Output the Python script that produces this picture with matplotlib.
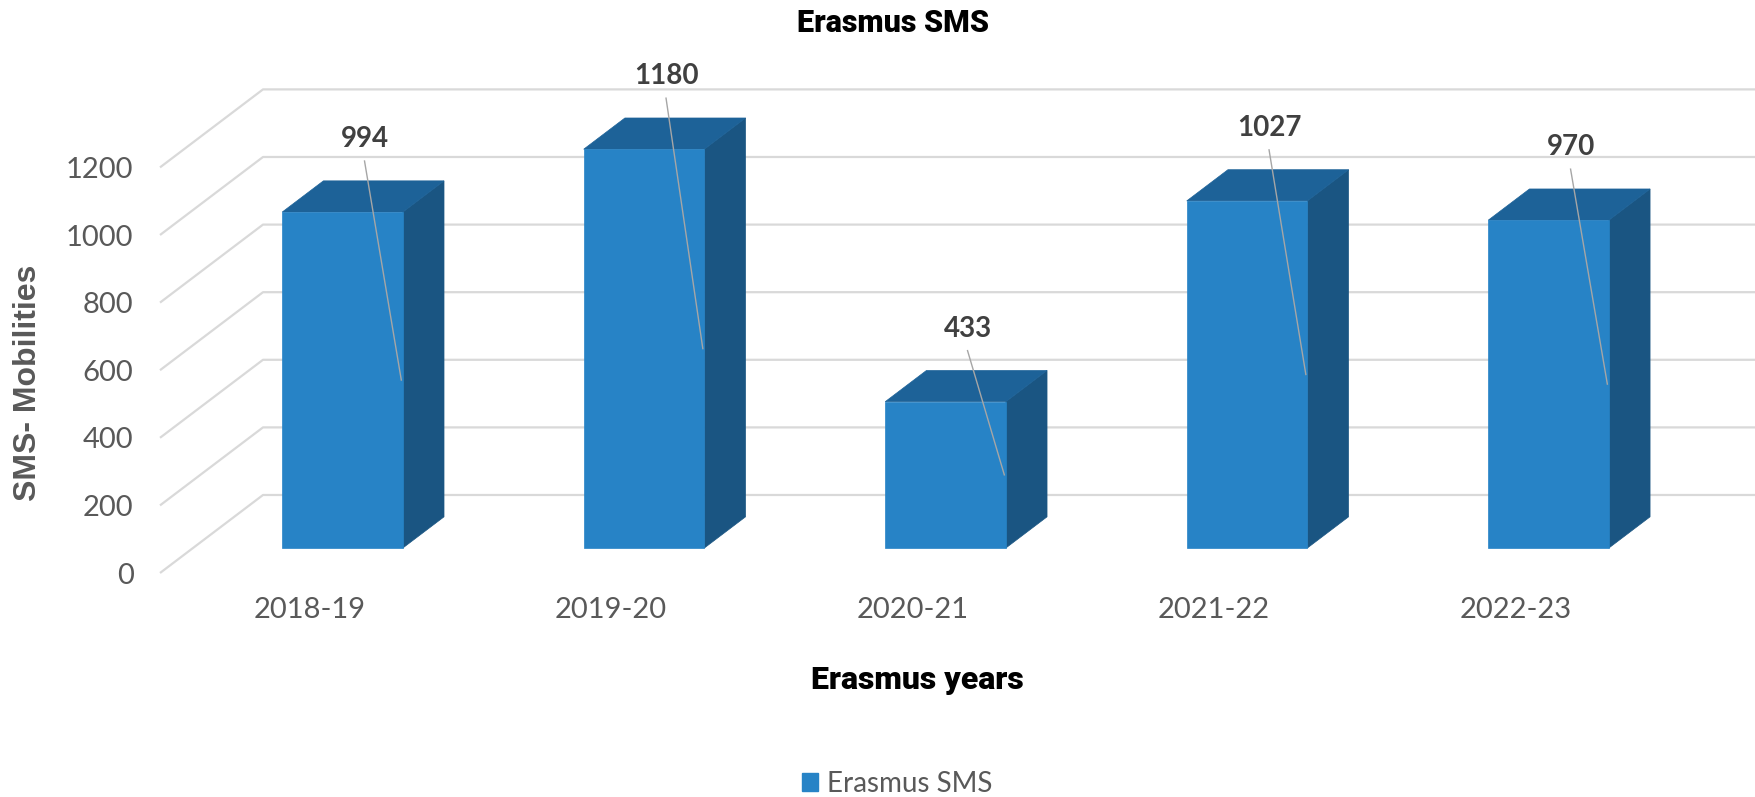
import matplotlib
matplotlib.use("Agg")
import matplotlib.pyplot as plt
from matplotlib.patches import Polygon, Patch

years = ["2018-19", "2019-20", "2020-21", "2021-22", "2022-23"]
mobilities = [994, 1180, 433, 1027, 970]
y_ticks = [0, 200, 400, 600, 800, 1000, 1200]

front_col = "#2783C6"
top_col = "#1D6298"
side_col = "#1A5582"
grid_col = "#D9D9D9"
text_grey = "#595959"

# oblique "3d": a point (x, v, depth) is shifted by depth*(DX, DY) in data units
DX = 0.3416
DY = 230.8
d_front, d_back = 0.32, 0.72
half_w = 0.2

def proj(x, v, d):
    return (x + d * DX, v + d * DY)

fig = plt.figure(figsize=(17.55, 7.97), dpi=100)
ax = fig.add_axes([160 / 1755, 224 / 797, 1595 / 1755, 405.6 / 797])
ax.set_xlim(-0.496, 4.794)
ax.set_ylim(0, 1200)
for s in ax.spines.values():
    s.set_visible(False)

# walls: diagonals on the side wall + lines on the back wall
x0 = ax.get_xlim()[0]
x1 = ax.get_xlim()[1]
for v in y_ticks:
    a = proj(x0, v, 0)
    b = proj(x0, v, 1)
    ax.plot([a[0], b[0], x1 + 0.2], [a[1], b[1], b[1]], color=grid_col,
            lw=1.6, clip_on=False, zorder=1, solid_capstyle="butt")

# bars
for i, v in enumerate(mobilities):
    xl, xr = i - half_w, i + half_w
    front = [proj(xl, 0, d_front), proj(xr, 0, d_front),
             proj(xr, v, d_front), proj(xl, v, d_front)]
    top = [proj(xl, v, d_front), proj(xr, v, d_front),
           proj(xr, v, d_back), proj(xl, v, d_back)]
    side = [proj(xr, 0, d_front), proj(xr, 0, d_back),
            proj(xr, v, d_back), proj(xr, v, d_front)]
    for pts, c in [(side, side_col), (top, top_col), (front, front_col)]:
        ax.add_patch(Polygon(pts, closed=True, facecolor=c, edgecolor=c,
                             lw=0.5, clip_on=False, zorder=3))

    # data label with leader line
    cx, cy = proj(i, v, d_front)
    lx = cx + 0.073
    ex, ey = proj(xr, v / 2, d_front)
    ax.plot([lx, ex - 0.005], [cy + 151, ey], color="#A6A6A6", lw=1,
            clip_on=False, zorder=4)
    ax.text(lx, cy + 216, str(v), ha="center", va="center", fontsize=20,
            fontweight="bold", color="#404040", family="Lato", zorder=5)

ax.set_yticks(y_ticks)
ax.set_yticklabels([str(t) for t in y_ticks], family="Lato", fontsize=21,
                   color=text_grey)
ax.set_xticks(range(len(years)))
ax.set_xticklabels(years, family="Lato", fontsize=21, color=text_grey)
ax.tick_params(axis="y", length=0, pad=19)
ax.tick_params(axis="x", length=0, pad=17)

ax.set_ylabel("SMS- Mobilities", family="Liberation Sans", fontweight="bold",
              fontsize=23, color=text_grey)
ax.yaxis.set_label_coords(-0.0734, 0.468)
ax.set_xlabel("Erasmus years", family="Roboto", fontweight="heavy",
              fontsize=23, color="black")
ax.xaxis.set_label_coords(0.4746, -0.227)

fig.text(893 / 1755, 1 - 23 / 797, "Erasmus SMS", family="Roboto",
         fontweight="heavy", fontsize=22, ha="center", va="center")

fig.legend(handles=[Patch(color=front_col, label="Erasmus SMS")],
           loc="center", bbox_to_anchor=(897 / 1755, 1 - 784 / 797),
           frameon=False, handlelength=0.6, handleheight=0.6,
           handletextpad=0.3, prop={"family": "Lato", "size": 20},
           labelcolor=text_grey)

fig.savefig("out.png", dpi=100)
